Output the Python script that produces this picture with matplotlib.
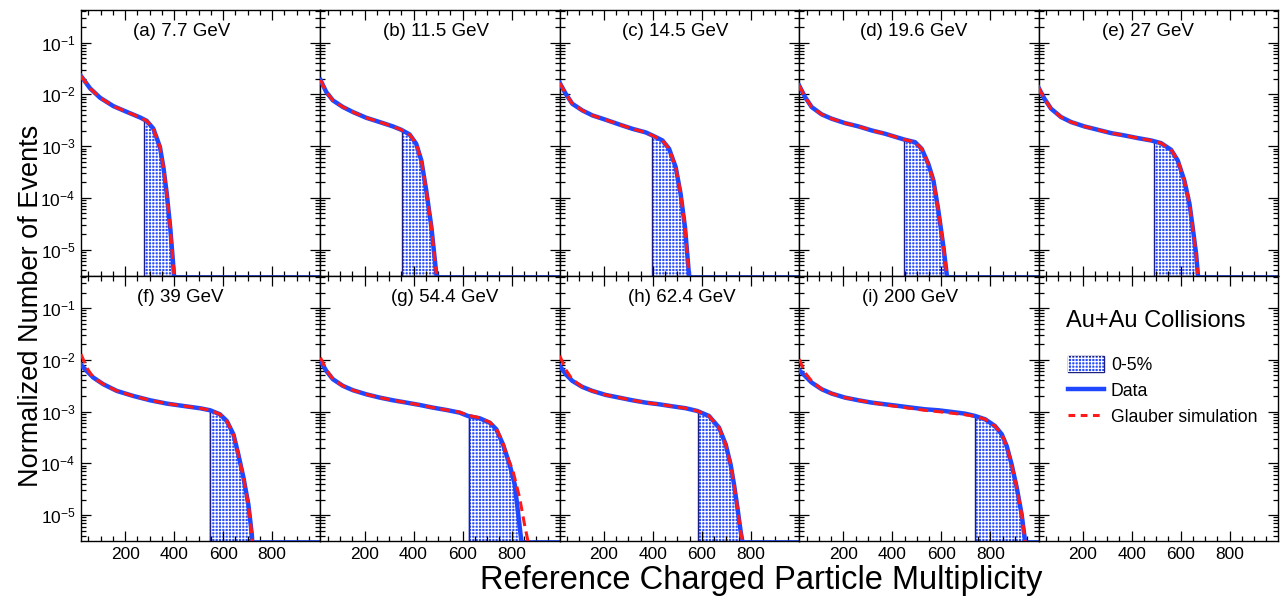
# -*- coding: utf-8 -*-
"""
Reference multiplicity distributions, Au+Au, 9 beam energies
"""

import numpy as np
import matplotlib
matplotlib.use('Agg')
import matplotlib.pyplot as plt
from matplotlib.patches import Patch
from matplotlib.lines import Line2D
from matplotlib.legend_handler import HandlerTuple
from matplotlib.ticker import MultipleLocator, LogLocator, NullFormatter

# plotting style (ROOT look-alike)
matplotlib.rcParams['font.family'] = 'Liberation Sans'
matplotlib.rcParams['mathtext.fontset'] = 'custom'
matplotlib.rcParams['mathtext.rm'] = 'Liberation Sans'
matplotlib.rcParams['mathtext.it'] = 'Liberation Sans:italic'
matplotlib.rcParams['mathtext.default'] = 'regular'
matplotlib.rcParams['hatch.linewidth'] = 0.8

BLUE = "#1f47ff"
RED = "#ff1a1a"
FILL = "#2a4dff"
EDGE = "#1a1f80"
HATCH = "+++++"

# ---- data: multiplicity and log10(normalized events) ----
labels = ["(a) 7.7 GeV", "(b) 11.5 GeV", "(c) 14.5 GeV", "(d) 19.6 GeV", "(e) 27 GeV",
          "(f) 39 GeV", "(g) 54.4 GeV", "(h) 62.4 GeV", "(i) 200 GeV"]

mult_a = [20, 57, 98, 152, 206, 261, 288, 315, 342, 356, 370, 384, 397, 401]
logn_a = [-1.645, -1.884, -2.066, -2.227, -2.337, -2.446, -2.511, -2.66, -3.015,
          -3.40, -3.92, -4.57, -5.34, -5.6]

mult_b = [20, 44, 71, 112, 153, 207, 262, 316, 350, 384, 411, 432, 452, 473, 493]
logn_b = [-1.72, -1.955, -2.116, -2.245, -2.342, -2.452, -2.535, -2.619, -2.684,
          -2.774, -2.955, -3.277, -3.858, -4.568, -5.47]

mult_c = [20, 44, 71, 112, 153, 207, 262, 316, 371, 398, 439, 466, 493, 513, 531, 547]
logn_c = [-1.78, -1.987, -2.181, -2.31, -2.406, -2.49, -2.58, -2.665, -2.735, -2.794,
          -2.89, -3.05, -3.406, -3.92, -4.568, -5.47]

mult_d = [20, 44, 71, 112, 153, 207, 262, 316, 371, 425, 452, 493, 520, 547, 568,
          588, 609, 622]
logn_d = [-1.83, -2.052, -2.245, -2.387, -2.471, -2.555, -2.619, -2.697, -2.761,
          -2.839, -2.877, -2.923, -3.052, -3.342, -3.665, -4.245, -4.955, -5.47]

mult_e = [20, 44, 71, 112, 153, 207, 262, 316, 371, 425, 479, 520, 561, 588, 615,
          636, 649, 663, 670]
logn_e = [-1.87, -2.084, -2.277, -2.439, -2.535, -2.619, -2.684, -2.748, -2.794,
          -2.845, -2.89, -2.942, -3.071, -3.277, -3.665, -4.116, -4.568, -5.084, -5.47]

mult_f = [20, 43, 70, 111, 166, 233, 302, 370, 437, 506, 547, 587, 615, 642, 662,
          683, 703, 717, 720]
logn_f = [-2.097, -2.213, -2.342, -2.471, -2.6, -2.697, -2.781, -2.845, -2.89, -2.935,
          -2.974, -3.052, -3.181, -3.439, -3.826, -4.277, -4.794, -5.374, -5.6]

mult_g = [20, 44, 71, 112, 153, 207, 262, 316, 371, 425, 479, 534, 588, 622, 670,
          711, 738, 765, 792, 813, 826, 840]
logn_g = [-2.019, -2.213, -2.374, -2.503, -2.587, -2.665, -2.729, -2.781, -2.826,
          -2.871, -2.923, -2.968, -3.019, -3.084, -3.129, -3.213, -3.342, -3.632,
          -4.019, -4.406, -4.923, -5.503]

mult_h = [20, 44, 71, 112, 153, 207, 262, 316, 371, 425, 479, 534, 581, 629, 670,
          697, 717, 731, 745, 758, 765]
logn_h = [-2.116, -2.277, -2.406, -2.523, -2.6, -2.677, -2.729, -2.781, -2.826,
          -2.858, -2.897, -2.935, -2.987, -3.084, -3.31, -3.632, -4.019, -4.406,
          -4.858, -5.31, -5.503]

mult_i = [20, 44, 71, 112, 153, 207, 262, 316, 371, 425, 479, 534, 588, 643, 697,
          738, 779, 819, 847, 867, 887, 908, 928, 942]
logn_i = [-2.2, -2.31, -2.439, -2.568, -2.652, -2.729, -2.781, -2.826, -2.858, -2.89,
          -2.923, -2.955, -2.974, -3.006, -3.039, -3.084, -3.148, -3.277, -3.439,
          -3.665, -4.019, -4.471, -4.987, -5.503]

# Glauber fits: on top of the data for (a)-(e), differ at low mult for (f)-(i)
glb_mult_f = [20, 43, 70, 111, 166, 233, 302, 370, 437, 506, 547, 587, 615, 642,
              662, 683, 703, 717, 720]
glb_logn_f = [-1.89, -2.15, -2.342, -2.471, -2.6, -2.697, -2.781, -2.845, -2.89,
              -2.935, -2.974, -3.052, -3.181, -3.439, -3.826, -4.277, -4.794, -5.374, -5.6]

glb_mult_g = [20, 44, 71, 112, 153, 207, 262, 316, 371, 425, 479, 534, 588, 622, 670,
              711, 738, 765, 779, 806, 833, 853, 867]
glb_logn_g = [-1.955, -2.19, -2.374, -2.503, -2.587, -2.665, -2.729, -2.781, -2.826,
              -2.871, -2.923, -2.968, -3.01, -3.07, -3.12, -3.205, -3.33, -3.60,
              -3.826, -4.148, -4.665, -5.18, -5.50]

glb_mult_h = [20, 44, 71, 112, 153, 207, 262, 316, 371, 425, 479, 534, 581, 629, 670,
              697, 717, 731, 745, 758, 765]
glb_logn_h = [-1.92, -2.19, -2.38, -2.523, -2.6, -2.677, -2.729, -2.781, -2.826,
              -2.858, -2.897, -2.935, -2.987, -3.084, -3.31, -3.632, -4.019, -4.406,
              -4.858, -5.31, -5.503]

glb_mult_i = [20, 44, 71, 112, 153, 207, 262, 316, 371, 425, 479, 534, 588, 643, 697,
              738, 779, 819, 847, 867, 887, 908, 928, 942]
glb_logn_i = [-1.987, -2.25, -2.41, -2.568, -2.652, -2.729, -2.781, -2.826, -2.87,
              -2.905, -2.94, -2.975, -3.0, -3.03, -3.06, -3.09, -3.148, -3.277, -3.439,
              -3.665, -4.019, -4.471, -4.987, -5.503]

# 0-5% centrality cut (lower edge in multiplicity)
cuts = [278, 353, 398, 449, 493, 545, 625, 584, 738]

data_mult = [mult_a, mult_b, mult_c, mult_d, mult_e, mult_f, mult_g, mult_h, mult_i]
data_logn = [logn_a, logn_b, logn_c, logn_d, logn_e, logn_f, logn_g, logn_h, logn_i]
glb_mult = [mult_a, mult_b, mult_c, mult_d, mult_e,
            glb_mult_f, glb_mult_g, glb_mult_h, glb_mult_i]
glb_logn = [logn_a, logn_b, logn_c, logn_d, logn_e,
            glb_logn_f, glb_logn_g, glb_logn_h, glb_logn_i]

# label x position (axes fraction), as placed in the original
label_x = [0.217, 0.263, 0.259, 0.255, 0.263, 0.234, 0.293, 0.284, 0.264]

XMIN, XMAX = 20, 997
YMIN, YMAX = 10**-5.5, 10**-0.37

fig, axes = plt.subplots(2, 5, figsize=(12.8, 5.97), dpi=100, sharex=True, sharey=True)
fig.subplots_adjust(left=0.0633, right=0.9984, top=0.9832, bottom=0.0938,
                    wspace=0, hspace=0)

for ax in axes.flat:
    ax.set_yscale('log')
    ax.set_xlim(XMIN, XMAX)
    ax.set_ylim(YMIN, YMAX)
    ax.xaxis.set_major_locator(MultipleLocator(200))
    ax.xaxis.set_minor_locator(MultipleLocator(50))
    ax.yaxis.set_major_locator(LogLocator(base=10, numticks=12))
    ax.yaxis.set_minor_locator(LogLocator(base=10, subs=np.arange(2, 10), numticks=12))
    ax.yaxis.set_minor_formatter(NullFormatter())
    ax.tick_params(which='both', direction='in', top=True, right=True, width=0.9,
                   labelsize=12.5, pad=4)
    ax.tick_params(which='major', length=7)
    ax.tick_params(which='minor', length=3.5)
    for sp in ax.spines.values():
        sp.set_linewidth(1.0)

for k in range(9):
    ax = axes.flat[k]
    x = np.array(data_mult[k], dtype=float)
    lg = np.array(data_logn[k])
    y = 10**lg

    # hatched 0-5% region under the data curve
    mask = x >= cuts[k]
    xf = np.concatenate([[cuts[k]], x[mask]])
    yf = np.concatenate([[10**np.interp(cuts[k], x, lg)], y[mask]])
    ax.fill_between(xf, YMIN, yf, facecolor=FILL, edgecolor='none', lw=0, zorder=1)
    ax.fill_between(xf, YMIN, yf, facecolor='none', edgecolor='white', hatch=HATCH,
                    lw=0, zorder=1.5)
    ax.plot([cuts[k], cuts[k]], [YMIN, yf[0]], color=EDGE, lw=1.0, zorder=2)

    # data + Glauber
    ax.plot(x, y, color=BLUE, lw=3.2, zorder=3, solid_joinstyle='round')
    ax.plot([x[-1], XMAX], [YMIN, YMIN], color=BLUE, lw=1.2, zorder=2)
    ax.plot(glb_mult[k], 10**np.array(glb_logn[k]), color=RED, lw=2.2,
            dashes=(3.2, 1.8), zorder=4)

    ax.text(label_x[k], 0.918, labels[k], transform=ax.transAxes, ha='left',
            va='center', fontsize=13.5)

# legend panel
axl = axes[1, 4]
axl.text(0.113, 0.83, "Au+Au Collisions", transform=axl.transAxes, ha='left',
         va='center', fontsize=17)
patch_base = Patch(facecolor=FILL, edgecolor=EDGE, lw=1.0)
patch_hatch = Patch(facecolor='none', edgecolor='white', hatch=HATCH, lw=0)
handles = [(patch_base, patch_hatch),
           Line2D([], [], color=BLUE, lw=3.2),
           Line2D([], [], color=RED, lw=2.2, dashes=(2.2, 1.8))]
axl.legend(handles, ["0-5%", "Data", "Glauber simulation"], loc='upper left',
           bbox_to_anchor=(0.125, 0.695), frameon=False, fontsize=12.7,
           handlelength=2.0, handleheight=1.0, handletextpad=0.4,
           labelspacing=0.45, borderpad=0, borderaxespad=0,
           handler_map={tuple: HandlerTuple(ndivide=1, pad=0)})

fig.text(0.024, 0.487, "Normalized Number of Events", rotation=90, ha='center',
         va='center', fontsize=19.5)
fig.text(0.595, 0.028, "Reference Charged Particle Multiplicity", ha='center',
         va='center', fontsize=23.5)

fig.savefig("out.png", dpi=100)
